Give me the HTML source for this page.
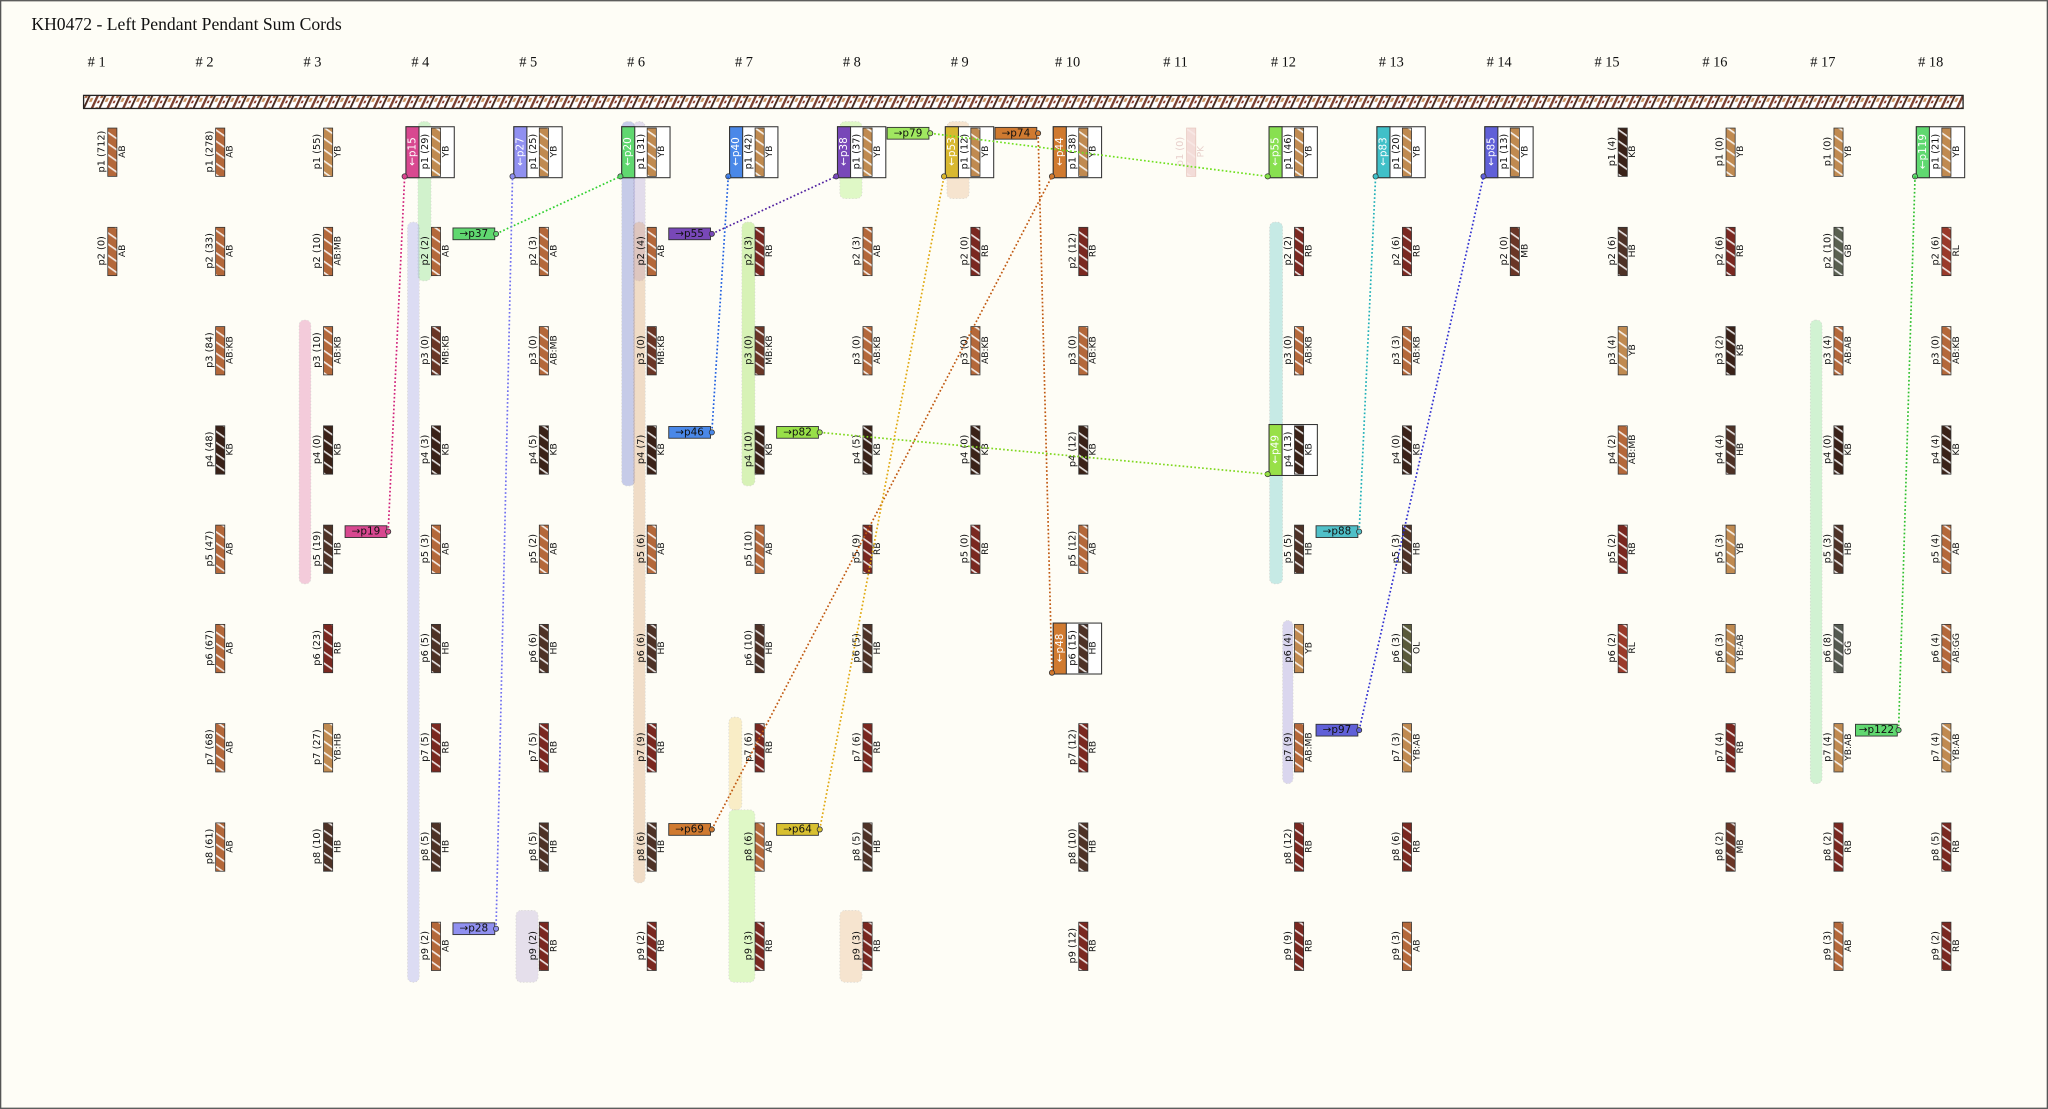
<!DOCTYPE html>
<html><head><meta charset="utf-8"><style>
html,body{margin:0;padding:0;background:#fefdf6}
svg{display:block}
</style></head><body>
<svg id="s" width="2048" height="1109" viewBox="0 0 1568 849" xmlns="http://www.w3.org/2000/svg">
<defs id="d"></defs>
<rect x="0.5" y="0.5" width="1567" height="848" fill="#fefdf6" stroke="#555" stroke-width="1"/>
<text x="24" y="23" font-family="Liberation Serif, serif" font-size="13.5" fill="#111">KH0472 - Left Pendant Pendant Sum Cords</text>
<g id="g"></g>
</svg>
<script>
const NS="http://www.w3.org/2000/svg";
const g=document.getElementById('g'),defs=document.getElementById('d');
function el(t,a,p){const e=document.createElementNS(NS,t);for(const k in a)e.setAttribute(k,a[k]);(p||g).appendChild(e);return e;}
function tx(x,y,s,a,rot){const e=el('text',Object.assign({x:x,y:y,'font-family':'DejaVu Sans, sans-serif','font-size':8,'text-anchor':'middle','dominant-baseline':'central',fill:'#111'},a||{}));if(rot)e.setAttribute('transform','rotate(-90 '+x+' '+y+')');e.textContent=s;return e;}
const COL={AB:'#b4683a',YB:'#c08a50',KB:'#3a2218',RB:'#7a2820',HB:'#4e3226',MB:'#6a3626',GB:'#5a6050',GG:'#555a50',RL:'#9a3a2a',OL:'#5a5a3a',PK:'#f3dcd8'};
const pats={};
function pat(c){if(pats[c])return 'url(#p'+pats[c]+')';const id=Object.keys(pats).length+1;pats[c]=id;
 const p=el('pattern',{id:'p'+id,width:7,height:7,patternUnits:'userSpaceOnUse',patternTransform:'rotate(35)'},defs);
 el('rect',{width:7,height:7,fill:c},p);el('rect',{x:0,y:0,width:7,height:1.3,fill:'#fff',opacity:c=='#f3dcd8'?0.3:0.85},p);return 'url(#p'+id+')';}
const cx=c=>86+(c-1)*82.6, ry=r=>98+(r-1)*76;
for(let c=1;c<=18;c++){tx(cx(c)-12,48,'# '+c,{'font-family':'Liberation Serif, serif','font-size':11});}
(function(){const p=el('pattern',{id:'top',width:12,height:10,patternUnits:'userSpaceOnUse',patternTransform:'skewX(-25)'},defs);
el('rect',{width:12,height:10,fill:'#fff'},p);el('rect',{x:0,width:2,height:10,fill:'#7a4030'},p);el('rect',{x:3.5,y:2,width:2,height:3,fill:'#b06840'},p);
el('rect',{x:6,y:0,width:1.6,height:10,fill:'#4a2a20'},p);el('rect',{x:8.5,y:5,width:2,height:3,fill:'#c89060'},p);el('rect',{x:3,y:7,width:1.5,height:2,fill:'#8a3a2a'},p);
el('rect',{x:64,y:73,width:1439,height:10,fill:'url(#top)',stroke:'#222','stroke-width':1});})();
const bands=[[229,238,245,447,'#e070a8'],[320,330,93,215,'#80e080'],[312,321,170,752,'#a0a0f0'],[476,486,93,372,'#6070d0'],[485,494,93,215,'#b0a0d8'],[485,494,170,676,'#d8a070'],[568,578,170,372,'#90e040'],[558,568,549,620,'#f0d070'],[558,578,620,752,'#a8f070'],[395,412,697,752,'#b8a8d8'],[643,660,93,152,'#a8f070'],[643,660,697,752,'#e8b888'],[725,742,93,152,'#e8b888'],[972,982,170,447,'#60c8c8'],[982,990,475,600,'#9a90e0'],[1386,1395,245,600,'#80e090']];
bands.forEach(b=>{el('rect',{x:b[0],y:b[2],width:b[1]-b[0],height:b[3]-b[2],rx:4,fill:b[4],opacity:0.35,stroke:'#888','stroke-width':0.5,'stroke-dasharray':'1 1.5'});});
const D={1:['712 AB','0 AB'],2:['278 AB','33 AB','84 AB:KB','48 KB','47 AB','67 AB','68 AB','61 AB'],
3:['55 YB','10 AB:MB','10 AB:KB','0 KB','19 HB','23 RB','27 YB:HB','10 HB'],
4:['29 YB','2 AB','0 MB:KB','3 KB','3 AB','5 HB','5 RB','5 HB','2 AB'],
5:['25 YB','3 AB','0 AB:MB','5 KB','2 AB','6 HB','5 RB','5 HB','2 RB'],
6:['31 YB','4 AB','0 MB:KB','7 KB','6 AB','6 HB','9 RB','6 HB','2 RB'],
7:['42 YB','3 RB','0 MB:KB','10 KB','10 AB','10 HB','6 RB','6 AB','3 RB'],
8:['37 YB','3 AB','0 AB:KB','5 KB','9 RB','5 HB','6 RB','5 HB','3 RB'],
9:['12 YB','0 RB','0 AB:KB','0 KB','0 RB'],
10:['38 YB','12 RB','0 AB:KB','12 KB','12 AB','15 HB','12 RB','10 HB','12 RB'],
11:['0 PK'],
12:['46 YB','2 RB','0 AB:KB','13 KB','5 HB','4 YB','9 AB:MB','12 RB','9 RB'],
13:['20 YB','6 RB','3 AB:KB','0 KB','3 HB','3 OL','3 YB:AB','6 RB','3 AB'],
14:['13 YB','0 MB'],15:['4 KB','6 HB','4 YB','2 AB:MB','2 RB','2 RL'],
16:['0 YB','6 RB','2 KB','4 HB','3 YB','3 YB:AB','4 RB','2 MB'],
17:['0 YB','10 GB','4 AB:AB','0 KB','3 HB','8 GG','4 YB:AB','2 RB','3 AB'],
18:['21 YB','6 RL','0 AB:KB','4 KB','4 AB','4 AB:GG','4 YB:AB','5 RB','2 RB']};
const boxes=[[4,1,'←p15','#d84890'],[5,1,'←p27','#9090f0'],[6,1,'←p20','#60d870'],[7,1,'←p40','#4a88e8'],[8,1,'←p38','#7848b8'],[9,1,'←p53','#d8b830'],[10,1,'←p44','#d07a30'],[10,6,'←p48','#d07a30'],[12,1,'←p55','#88e050'],[12,4,'←p49','#98e048'],[13,1,'←p83','#40c0c8'],[14,1,'←p85','#6060d8'],[18,1,'←p119','#60d870']];
boxes.forEach(b=>{const x=cx(b[0]),y=ry(b[1]);el('rect',{x:x-23,y:y-1,width:37,height:39,fill:'#fff',stroke:'#333','stroke-width':0.8});
 el('rect',{x:x-23,y:y-1,width:10,height:39,fill:b[3],stroke:'#333','stroke-width':0.8});tx(x-18,y+18,b[2],{fill:'#fff','font-size':8},1);
 el('circle',{cx:x-24,cy:y+37,r:2,fill:b[3],stroke:'#333','stroke-width':0.6});});
for(const c in D){D[c].forEach((s,i)=>{const [n,code]=s.split(' ');const x=cx(+c),y=ry(i+1);const col=COL[code.split(':')[0]]||'#888';
 const faded=code=='PK';
 el('rect',{x:x-3.5,y:y,width:7,height:37,fill:pat(col),stroke:faded?'#e8c8c0':'#333','stroke-width':0.6});
 tx(x-8,y+18,'p'+(i+1)+' ('+n+')',{'font-size':7.5,fill:faded?'#e8d0cc':'#111'},1);
 tx(x+8,y+18,code,{'font-size':7,fill:faded?'#e8d0cc':'#111'},1);});}
const boxDot=(c,r)=>[cx(c)-24,ry(r)+37];
const arr=[[4,2,'→p37','#60d870',boxDot(6,1),'#30d030'],[3,5,'→p19','#d84890',boxDot(4,1),'#d0207a'],[4,9,'→p28','#9090f0',boxDot(5,1),'#7070f0'],
[6,2,'→p55','#7848b8',boxDot(8,1),'#5020a0'],[6,4,'→p46','#4a88e8',boxDot(7,1),'#2060e0'],[7,4,'→p82','#98e048',boxDot(12,4),'#80d820'],
[6,8,'→p69','#d07a30',boxDot(10,1),'#c05810'],[7,8,'→p64','#d8c030',boxDot(9,1),'#e0a810'],[12,5,'→p88','#50c0c8',boxDot(13,1),'#20b0b8'],
[12,7,'→p97','#6060d8',boxDot(14,1),'#3030d0'],[17,7,'→p122','#60d870',boxDot(18,1),'#30c030']];
function arrow(x,y,lab,fc,t,lc){el('line',{x1:x+33,y1:y,x2:t[0],y2:t[1],stroke:lc,'stroke-width':1.3,'stroke-dasharray':'1.3 1.7'});
 el('rect',{x:x,y:y-4.5,width:32,height:9,fill:fc,stroke:'#333','stroke-width':0.7});tx(x+16,y,lab,{fill:'#111','font-size':8});
 el('circle',{cx:x+33,cy:y,r:2,fill:fc,stroke:'#333','stroke-width':0.6});}
arr.forEach(a=>arrow(cx(a[0])+13,ry(a[1])+5,a[2],a[3],a[4],a[5]));
arrow(cx(8)+15,102,'→p79','#a0e860',boxDot(12,1),'#70e020');
arrow(cx(9)+15,102,'→p74','#d07a30',boxDot(10,6),'#c05810');
</script>
</body></html>
